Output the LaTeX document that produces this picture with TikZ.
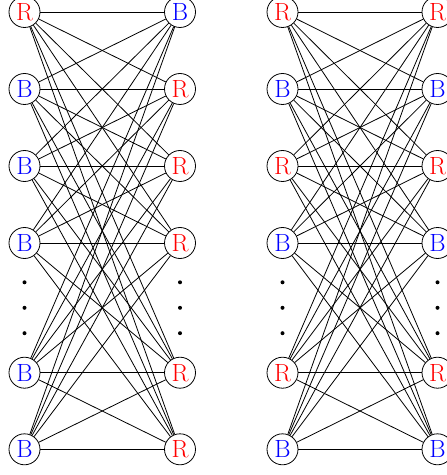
\documentclass[tikz,border=0pt]{standalone}
\begin{document}
\begin{tikzpicture}[x=1bp,y=-1bp,
  vtx/.style={circle,draw,fill=white,minimum size=31bp,inner sep=0pt,line width=0.8bp,font=\fontsize{25}{25}\selectfont},
  rr/.style={vtx,text=red},
  bb/.style={vtx,text=blue},
  edge/.style={line width=0.8bp},
  dotn/.style={circle,fill=black,inner sep=0pt,minimum size=4bp}]
\useasboundingbox (0,0) rectangle (447,475);
\foreach \i/\y/\a/\ta/\b/\tb/\c/\tc/\d/\td in {
  1/12/rr/R/bb/B/rr/R/rr/R,
  2/89/bb/B/rr/R/bb/B/bb/B,
  3/166/bb/B/rr/R/rr/R/rr/R,
  4/243/bb/B/rr/R/bb/B/bb/B,
  5/372.7/bb/B/rr/R/rr/R/rr/R,
  6/449.3/bb/B/rr/R/bb/B/bb/B}{
  \node[\a] (L\i) at (24.5,\y) {\ta};
  \node[\b] (M\i) at (180,\y) {\tb};
  \node[\c] (P\i) at (282.5,\y) {\tc};
  \node[\d] (Q\i) at (437.5,\y) {\td};
}
\foreach \i in {1,...,6}{
  \foreach \j in {1,...,6}{
    \draw[edge] (L\i) -- (M\j);
    \draw[edge] (P\i) -- (Q\j);
  }
}
\foreach \k/\y in {1/282.3,2/307.8,3/333.2}{
  \node[dotn] (dL\k) at (24.5,\y) {};
  \node[dotn] (dM\k) at (180,\y) {};
  \node[dotn] (dP\k) at (282.5,\y) {};
  \node[dotn] (dQ\k) at (437.5,\y) {};
}
\end{tikzpicture}
\end{document}
